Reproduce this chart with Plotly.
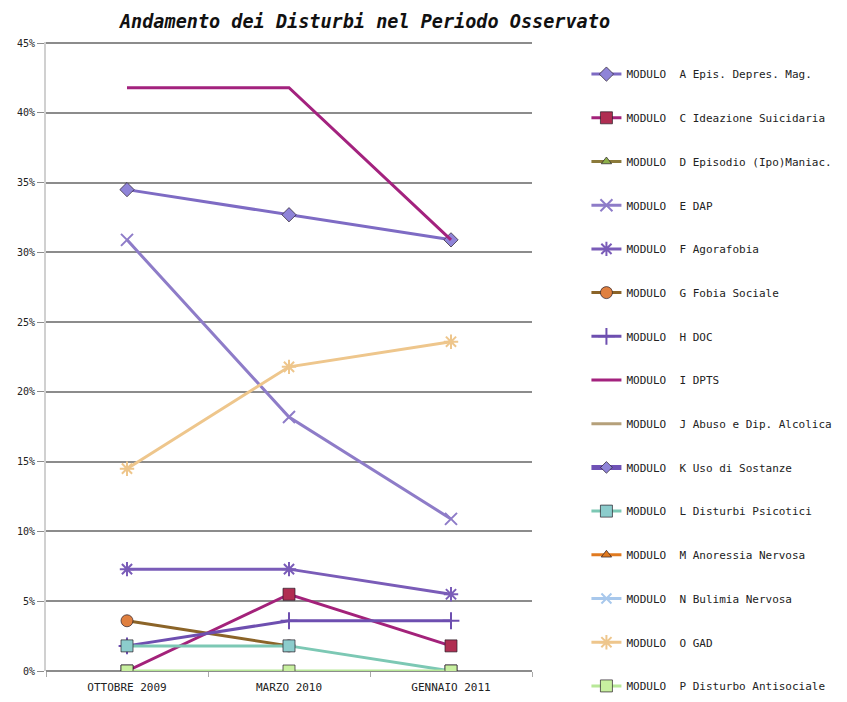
import plotly.graph_objects as go

# Survey periods
categories = ["OTTOBRE 2009", "MARZO 2010", "GENNAIO 2011"]

# Percentage of subjects with each disorder, per period
mod_a = [34.5, 32.7, 30.9]
mod_c = [0.0, 5.5, 1.8]
mod_d = [None, None, None]
mod_e = [30.9, 18.2, 10.9]
mod_f = [7.3, 7.3, 5.5]
mod_g = [3.6, 1.8, None]
mod_h = [1.8, 3.6, 3.6]
mod_i = [41.8, 41.8, 30.9]
mod_j = [None, None, None]
mod_k = [None, None, None]
mod_l = [1.8, 1.8, 0.0]
mod_m = [None, None, None]
mod_n = [None, None, None]
mod_o = [14.5, 21.8, 23.6]
mod_p = [0.0, 0.0, 0.0]

names = [
    "MODULO\u00a0\u00a0A Epis. Depres. Mag.",
    "MODULO\u00a0\u00a0C Ideazione Suicidaria",
    "MODULO\u00a0\u00a0D Episodio (Ipo)Maniac.",
    "MODULO\u00a0\u00a0E DAP",
    "MODULO\u00a0\u00a0F Agorafobia",
    "MODULO\u00a0\u00a0G Fobia Sociale",
    "MODULO\u00a0\u00a0H DOC",
    "MODULO\u00a0\u00a0I DPTS",
    "MODULO\u00a0\u00a0J Abuso e Dip. Alcolica",
    "MODULO\u00a0\u00a0K Uso di Sostanze",
    "MODULO\u00a0\u00a0L Disturbi Psicotici",
    "MODULO\u00a0\u00a0M Anoressia Nervosa",
    "MODULO\u00a0\u00a0N Bulimia Nervosa",
    "MODULO\u00a0\u00a0O GAD",
    "MODULO\u00a0\u00a0P Disturbo Antisociale",
]
values = [mod_a, mod_c, mod_d, mod_e, mod_f, mod_g, mod_h, mod_i,
          mod_j, mod_k, mod_l, mod_m, mod_n, mod_o, mod_p]

# (line colour, line width, marker symbol, marker fill, marker size)
styles = [
    ("#7e6bc4", 3, "diamond", "#8f84d8", 11),
    ("#a3227a", 3, "square", "#b02e52", 12),
    ("#8b7a3a", 3, "triangle-up", "#8db04a", 9),
    ("#8e7cc8", 3, "x-thin", "#8e7cc8", 12),
    ("#7a5cb8", 3, "asterisk", "#7a5cb8", 12),
    ("#8b6428", 3, "circle", "#e08040", 12),
    ("#6e4fb0", 3, "cross-thin", "#6e4fb0", 12),
    ("#a3227e", 3, None, None, 0),
    ("#b5a07a", 3, None, None, 0),
    ("#6f52b6", 5, "diamond", "#8f84d8", 9),
    ("#7cc8b4", 3, "square", "#8ccccc", 12),
    ("#e07a20", 3, "triangle-up", "#e07a20", 9),
    ("#a8c8ec", 3, "x-thin", "#a8c8ec", 10),
    ("#eec68c", 3, "asterisk", "#eec68c", 12),
    ("#b8e898", 3, "square", "#c8f0a0", 12),
]

fig = go.Figure()
for i, (name, vals, st) in enumerate(zip(names, values, styles)):
    color, width, sym, fill, size = st
    if sym is None:
        mode = "lines"
        marker = None
    else:
        mode = "lines+markers"
        open_sym = sym in ("x-thin", "asterisk", "cross-thin")
        marker = dict(
            symbol=sym,
            size=size,
            color=fill,
            line=dict(color=color if open_sym else "rgba(40,30,40,0.7)",
                      width=2 if open_sym else 1),
        )
    fig.add_trace(go.Scatter(
        x=categories, y=vals, name=name, mode=mode,
        line=dict(color=color, width=width),
        marker=marker,
        legendgroup=f"g{i}",
        connectgaps=False,
    ))

fig.update_layout(
    width=847, height=702,
    margin=dict(l=46, r=315, t=42, b=31, autoexpand=False),
    paper_bgcolor="white", plot_bgcolor="white",
    font=dict(family="DejaVu Sans Mono", color="#222222"),
    title=dict(
        text="<b><i>Andamento dei Disturbi nel Periodo Osservato</i></b>",
        font=dict(family="DejaVu Sans Mono", size=18.5, color="#111111"),
        x=365 / 847, xanchor="center", y=1 - 22 / 702, yanchor="middle",
    ),
    showlegend=True,
    legend=dict(
        x=1.112, xanchor="left", y=0.972, yanchor="top",
        font=dict(family="DejaVu Sans Mono", size=11, color="#222222"),
        tracegroupgap=24.7, itemwidth=30, maxheight=700,
        bgcolor="rgba(0,0,0,0)",
    ),
)

fig.update_xaxes(
    type="category", range=[-0.5, 2.5],
    showgrid=False, showline=False, zeroline=False,
    ticks="outside", tickson="boundaries", ticklen=5, tickcolor="#aaaaaa",
    ticklabelstandoff=8,
    tickfont=dict(family="DejaVu Sans Mono", size=11, color="#222222"),
)
fig.update_yaxes(
    range=[0, 45.08], dtick=5, ticksuffix="%",
    showgrid=True, gridcolor="#8c8c8c", gridwidth=2,
    zeroline=True, zerolinecolor="#8c8c8c", zerolinewidth=2,
    showline=True, linecolor="#d0d0d0", linewidth=2,
    ticks="outside", ticklen=7, tickcolor="#8c8c8c",
    tickfont=dict(family="DejaVu Sans Mono", size=10, color="#222222"),
)

fig.write_html("out.html")
